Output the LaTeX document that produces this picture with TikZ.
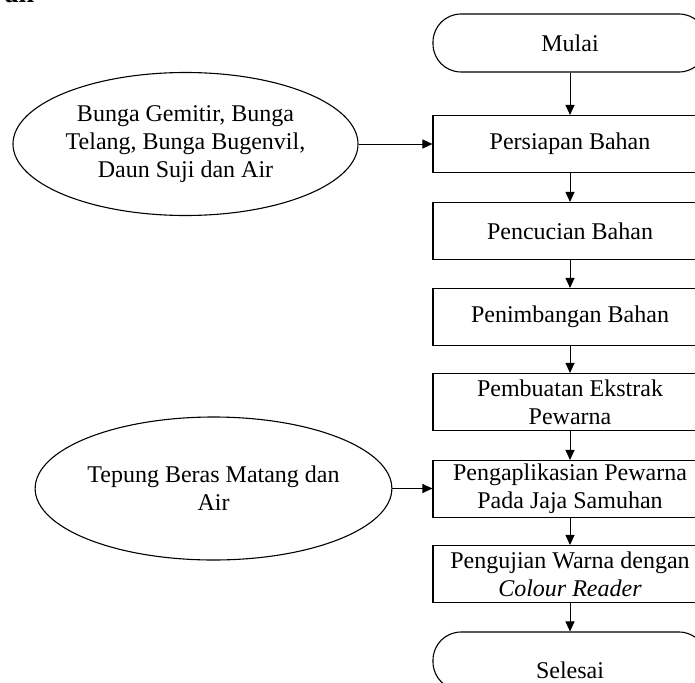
\documentclass[tikz,border=0pt]{standalone}
\usepackage{fontspec}
\setmainfont{Liberation Serif}
\usetikzlibrary{shapes.geometric,arrows.meta}
\begin{document}
\begin{tikzpicture}[x=1pt,y=-1pt,
  every node/.style={font=\fontsize{24}{28}\selectfont},
  procbox/.style={draw,line width=1.1pt,rectangle,minimum width=274pt,minimum height=57pt,align=center,inner sep=0pt},
  termbox/.style={draw,line width=1.1pt,rectangle,rounded corners=28pt,minimum width=274pt,minimum height=58pt,align=center,inner sep=0pt},
  inbox/.style={draw,line width=1.1pt,ellipse,minimum width=345pt,minimum height=143pt,align=center,inner sep=0pt},
  flow/.style={line width=1pt,-{Triangle[length=10pt,width=9pt]}}]
\useasboundingbox (0,0) rectangle (695,682);
\node[anchor=base west,font=\fontsize{28}{32}\selectfont\bfseries] (head) at (1,3) {an};
\node[termbox] (mulai) at (570,43) {Mulai};
\node[procbox] (persiapan) at (570,144) {Persiapan Bahan};
\node[procbox] (pencucian) at (570,231) {Pencucian Bahan};
\node[procbox] (penimbangan) at (570,317) {Penimbangan Bahan};
\node[procbox] (pembuatan) at (570,402) {Pembuatan Ekstrak\\Pewarna};
\node[procbox] (aplikasi) at (570,489) {Pengaplikasian Pewarna\\Pada Jaja Samuhan};
\node[procbox] (uji) at (570,574) {Pengujian Warna dengan\\\textit{Colour Reader}};
\node[termbox] (selesai) at (570,661) {\raisebox{-17pt}[0pt][0pt]{Selesai}};
\node[inbox] (bahan1) at (185.5,144) {Bunga Gemitir, Bunga\\Telang, Bunga Bugenvil,\\Daun Suji dan Air};
\node[inbox] (bahan2) at (213.5,488.5) {Tepung Beras Matang dan\\Air};
\draw[flow] (mulai) -- (persiapan);
\draw[flow] (persiapan) -- (pencucian);
\draw[flow] (pencucian) -- (penimbangan);
\draw[flow] (penimbangan) -- (pembuatan);
\draw[flow] (pembuatan) -- (aplikasi);
\draw[flow] (aplikasi) -- (uji);
\draw[flow] (uji) -- (selesai);
\draw[flow] (bahan1.east) -- (bahan1.east -| persiapan.west);
\draw[flow] (bahan2.east) -- (bahan2.east -| aplikasi.west);
\end{tikzpicture}
\end{document}
